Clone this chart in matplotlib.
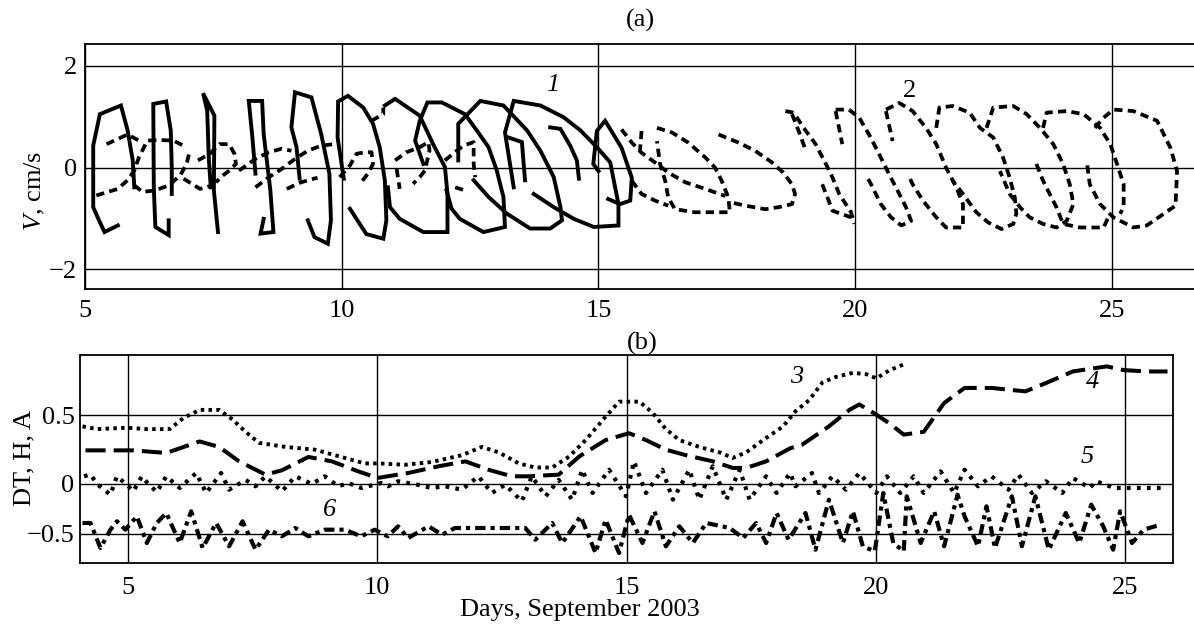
import numpy as np
import matplotlib
matplotlib.use("Agg")
import matplotlib.pyplot as plt

plt.rcParams['font.family'] = ['Liberation Serif', 'DejaVu Serif']
plt.rcParams['mathtext.fontset'] = 'custom'
plt.rcParams['mathtext.rm'] = 'Liberation Serif'
plt.rcParams['mathtext.it'] = 'Liberation Serif:italic'

# ---- (a) velocity hodographs: (day, V cm/s) vertices ----
curve1_segments = [
    [(5.64, -1.14), (5.38, -1.27), (5.26, -1.01), (5.16, -0.78), (5.16, 0.43), (5.29, 1.05),
     (5.70, 1.22), (5.83, 0.73), (5.93, 0.14), (5.96, -0.39)],
    [(6.63, -1.04), (6.63, -1.33), (6.37, -1.17), (6.34, -0.39), (6.33, 1.25), (6.58, 1.30),
     (6.67, 0.73), (6.69, 0.0), (6.69, -0.52)],
    [(7.59, -1.27), (7.51, -0.45), (7.52, 1.02), (7.30, 1.46), (7.38, 1.12), (7.41, 0.20), (7.45, -0.39)],
    [(8.48, -1.01), (8.42, -1.30), (8.67, -1.27), (8.61, -0.45), (8.48, 0.66), (8.45, 1.31),
     (8.19, 1.31), (8.26, 0.59), (8.32, -0.12)],
    [(9.34, -1.04), (9.47, -1.37), (9.73, -1.50), (9.79, -1.04), (9.76, -0.12), (9.60, 0.66),
     (9.41, 1.38), (9.09, 1.48), (9.02, 0.79), (9.12, 0.40), (9.18, -0.22)],
    [(10.04, -0.22), (9.92, 0.59), (9.93, 1.30), (10.12, 1.41), (10.42, 1.18), (10.61, 0.86),
     (10.74, 0.40), (10.84, -0.25), (10.87, -1.04), (10.81, -1.40), (10.48, -1.31), (10.16, -0.81)],
    [(10.84, 1.22), (11.04, 1.35), (11.52, 1.02), (11.78, 0.46), (12.01, 0.01), (12.06, -0.52),
     (12.06, -1.27), (11.59, -1.27), (11.13, -1.01), (10.94, -0.78), (10.90, -0.39)],
    [(11.59, 0.07), (11.43, 0.53), (11.52, 0.92), (11.67, 1.28), (11.95, 1.28), (12.40, 1.05),
     (12.63, 0.73), (12.86, 0.40), (13.02, -0.06), (13.15, -0.58), (13.18, -1.17), (12.76, -1.27),
     (12.30, -1.01), (12.14, -0.81), (12.04, -0.45)],
    [(12.27, 0.14), (12.27, 0.86), (12.70, 1.31), (13.15, 1.22), (13.61, 0.73), (13.87, 0.33),
     (14.13, -0.19), (14.26, -0.78), (14.29, -1.04), (14.06, -1.20), (13.67, -1.20), (13.22, -0.91),
     (12.86, -0.58), (12.57, -0.25)],
    [(13.35, -0.39), (13.18, 0.69), (13.35, 1.31), (13.87, 1.22), (14.32, 0.99), (14.65, 0.73),
     (14.97, 0.40), (15.23, 0.10), (15.39, -0.72), (15.39, -1.14), (14.91, -1.17), (14.52, -1.01),
     (14.13, -0.78), (13.74, -0.52)],
    [(13.25, 0.59), (13.51, 0.50), (13.57, -0.25)],
    [(14.06, 0.79), (14.26, 0.76), (14.45, 0.43), (14.58, 0.14), (14.62, -0.22)],
    [(15.00, -0.07), (14.90, 0.07), (14.97, 0.72), (15.13, 0.92), (15.45, 0.39), (15.65, -0.20),
     (15.62, -0.65), (15.42, -0.72), (15.19, -0.62)],
]

curve2_segments = [
    [(5.42, 0.46), (5.83, 0.65), (6.05, 0.53)],
    [(5.22, -0.55), (5.64, -0.42), (5.83, -0.25), (5.96, -0.06), (6.05, 0.20), (6.15, 0.40),
     (6.21, 0.53), (6.47, 0.54), (6.72, 0.53), (6.92, 0.43)],
    [(5.96, -0.35), (6.12, -0.48), (6.37, -0.45), (6.63, -0.35), (6.85, -0.16), (6.98, 0.07), (7.04, 0.33)],
    [(6.92, -0.22), (7.24, -0.42), (7.49, -0.35)],
    [(7.20, 0.14), (7.43, 0.27), (7.62, 0.46), (7.81, 0.46), (7.91, 0.27), (7.94, 0.07),
     (7.81, -0.06), (7.68, -0.16), (7.55, -0.29)],
    [(8.00, -0.06), (8.32, 0.17), (8.58, 0.30), (8.83, 0.37), (9.02, 0.33)],
    [(8.32, -0.39), (8.58, -0.19), (8.83, -0.03), (9.09, 0.17), (9.34, 0.33), (9.60, 0.43), (9.85, 0.46)],
    [(8.93, -0.42), (9.21, -0.29), (9.53, -0.20)],
    [(9.96, -0.19), (10.16, 0.04), (10.29, 0.27), (10.45, 0.30), (10.58, 0.30), (10.61, 0.07),
     (10.51, -0.12), (10.38, -0.29)],
    [(10.58, 0.92), (10.81, 1.05), (10.81, 1.18)],
    [(11.04, 0.14), (11.26, 0.30), (11.52, 0.40), (11.69, 0.50), (11.71, 0.33), (11.62, -0.06),
     (11.52, -0.19), (11.39, -0.32)],
    [(11.07, -0.03), (11.13, -0.42)],
    [(12.01, 0.14), (12.24, 0.33), (12.37, 0.43), (12.57, 0.50), (12.57, 0.07), (12.60, -0.19)],
    [(12.21, -0.39), (12.40, -0.45)],
    [(15.45, 0.75), (15.65, 0.49), (15.84, 0.29), (16.10, 0.10), (16.36, -0.10), (16.69, -0.29),
     (17.08, -0.42), (17.47, -0.56)],
    [(15.84, 0.72), (15.81, 0.33)],
    [(15.65, -0.26), (15.84, -0.52), (16.10, -0.65), (16.36, -0.75)],
    [(16.14, 0.78), (16.43, 0.69), (16.75, 0.49), (17.08, 0.20), (17.27, 0.0), (17.40, -0.26),
     (17.53, -0.59), (17.56, -0.88), (17.21, -0.88), (16.88, -0.88), (16.49, -0.82), (16.36, -0.59),
     (16.30, -0.26), (16.20, 0.07), (16.14, 0.52)],
    [(17.34, 0.65), (17.73, 0.49), (18.05, 0.33), (18.38, 0.10), (18.60, -0.10), (18.77, -0.33),
     (18.83, -0.52), (18.77, -0.72), (18.51, -0.78), (18.25, -0.82), (17.86, -0.75), (17.60, -0.69)],
    [(18.64, 1.11), (18.80, 1.08), (19.04, 0.72), (19.23, 0.46), (19.43, 0.07), (19.56, -0.20),
     (19.69, -0.52), (19.92, -0.88), (19.98, -1.11)],
    [(18.77, 1.05), (18.90, 0.72), (19.04, 0.33)],
    [(19.36, -0.33), (19.56, -0.85), (19.75, -0.92), (19.92, -0.98)],
    [(19.62, 1.14), (19.88, 1.14), (20.08, 0.98), (20.27, 0.65), (20.47, 0.26), (20.66, -0.13),
     (20.83, -0.46), (20.99, -0.78), (21.09, -1.05), (20.90, -1.14), (20.70, -0.98), (20.50, -0.72),
     (20.31, -0.33), (20.24, -0.20)],
    [(19.62, 1.11), (19.75, 0.46)],
    [(20.60, 1.14), (20.86, 1.27), (21.12, 1.11), (21.38, 0.78), (21.58, 0.46), (21.77, 0.0),
     (21.97, -0.39), (22.10, -0.72), (22.10, -1.18), (21.77, -1.18), (21.58, -0.98), (21.32, -0.65),
     (21.12, -0.33), (21.06, -0.20)],
    [(20.60, 1.11), (20.73, 0.52)],
    [(21.58, 0.78), (21.64, 1.18), (21.90, 1.21), (22.23, 1.08), (22.43, 0.78), (22.69, 0.59),
     (22.88, 0.20), (23.01, -0.20), (23.11, -0.59), (23.14, -0.91), (23.08, -1.11), (22.85, -1.21),
     (22.59, -1.08), (22.36, -0.88), (22.10, -0.52), (21.90, -0.26)],
    [(22.56, 0.78), (22.69, 1.18), (23.08, 1.21), (23.34, 1.05), (23.60, 0.78), (23.86, 0.46),
     (24.05, 0.07), (24.18, -0.33), (24.25, -0.72), (24.12, -1.05), (23.92, -1.18), (23.66, -1.11),
     (23.40, -0.98), (23.21, -0.78), (23.01, -0.52), (22.82, -0.07)],
    [(23.66, 0.78), (23.73, 1.08), (24.12, 1.11), (24.45, 1.05), (24.77, 0.78), (24.97, 0.46),
     (25.10, 0.07), (25.23, -0.33), (25.23, -0.78), (25.16, -0.91)],
    [(23.53, 0.07), (23.66, -0.26), (23.92, -0.78), (24.05, -1.11), (24.38, -1.18), (24.84, -1.18),
     (24.93, -0.98)],
    [(24.67, 0.78), (24.84, 0.98), (25.03, 1.14), (25.42, 1.11), (25.88, 0.92), (26.14, 0.39),
     (26.27, -0.07), (26.24, -0.75), (25.68, -1.14), (25.42, -1.18), (25.03, -0.98), (24.77, -0.72),
     (24.57, -0.33), (24.51, 0.13)],
]

# ---- (b) DT, H, A series ----
days3 = [4.09, 4.38, 4.98, 5.38, 5.84, 6.11, 6.44, 6.83, 7.10, 7.36, 7.63, 8.16, 8.75, 9.35, 9.75,
         10.02, 10.56, 11.09, 11.70, 12.10, 12.44, 12.84, 13.17, 13.51, 13.85, 14.18, 14.58, 14.85,
         15.26, 15.52, 15.79, 16.06, 16.46, 16.87, 17.13, 17.40, 17.74, 18.14, 18.39, 18.66, 18.93,
         19.20, 19.54, 19.81, 20.01, 20.28, 20.62]
vals3 = [0.42, 0.40, 0.41, 0.40, 0.40, 0.48, 0.54, 0.54, 0.47, 0.38, 0.30, 0.27, 0.25, 0.19, 0.15,
         0.15, 0.14, 0.16, 0.21, 0.27, 0.23, 0.15, 0.12, 0.12, 0.20, 0.32, 0.49, 0.60,
         0.60, 0.52, 0.40, 0.32, 0.27, 0.23, 0.19, 0.23, 0.32, 0.42, 0.53, 0.61, 0.74,
         0.78, 0.81, 0.80, 0.77, 0.83, 0.88]

days4 = [4.15, 5.11, 5.77, 6.44, 6.83, 7.23, 7.76, 8.09, 8.62, 9.09, 9.62, 10.01, 10.41, 10.62, 11.23,
         11.77, 12.23, 12.70, 13.04, 13.64, 14.05, 14.58, 15.05, 15.39, 15.79, 16.19, 16.73, 17.13,
         17.40, 17.80, 18.28, 18.52, 19.06, 19.47, 19.67, 20.01, 20.28, 20.56, 20.96, 21.37, 21.78,
         22.32, 23.00, 23.41, 23.95, 24.63, 24.97, 25.44, 25.85]
vals4 = [0.245, 0.245, 0.226, 0.31, 0.27, 0.165, 0.068, 0.10, 0.197, 0.165, 0.092, 0.044, 0.068, 0.08,
         0.129, 0.165, 0.104, 0.056, 0.056, 0.068, 0.20, 0.32, 0.37, 0.32, 0.25, 0.21, 0.165, 0.117,
         0.117, 0.165, 0.26, 0.286, 0.42, 0.54, 0.58, 0.505, 0.44, 0.36, 0.38, 0.59, 0.70,
         0.70, 0.675, 0.735, 0.82, 0.857, 0.83, 0.82, 0.82]

days5 = [4.12, 4.25, 4.38, 4.65, 4.78, 4.98, 5.11, 5.28, 5.41, 5.58, 5.77, 6.04, 6.37, 6.57, 6.87,
         7.03, 7.36, 7.56, 7.76, 8.09, 8.36, 8.69, 8.95, 9.22, 9.42, 9.68, 10.08, 10.22, 10.42, 10.83,
         11.09, 11.36, 11.70, 12.03, 12.30, 12.57, 12.90, 13.10, 13.38, 13.64, 13.91, 14.11, 14.32,
         14.65, 14.99, 15.15, 15.39, 15.72, 15.93, 16.26, 16.46, 16.73, 17.00, 17.27, 17.47, 17.80,
         18.01, 18.28, 18.39, 18.72, 18.86, 19.13, 19.40, 19.67, 20.01, 20.22, 20.49, 20.76, 20.96,
         21.30, 21.57, 21.78, 22.05, 22.32, 22.66, 22.86, 23.13, 23.41, 23.74, 23.95, 24.29, 24.42,
         24.69, 24.76, 25.78]
vals5 = [0.056, 0.07, 0.0, -0.107, 0.056, -0.007, -0.073, 0.056, 0.0, -0.08, 0.056, -0.04, 0.08, -0.09,
         0.08, -0.057, 0.03, -0.023, 0.056, -0.073, 0.056, 0.0, 0.056, -0.023, 0.007, -0.04, 0.007,
         -0.023, 0.02, -0.01, -0.04, -0.023, -0.057, 0.056, -0.09, -0.007, -0.173, 0.056, -0.123, 0.03,
         -0.157, 0.104, -0.09, 0.104, -0.123, 0.165, -0.09, 0.104, -0.157, 0.104, -0.157, 0.129, -0.157,
         0.104, -0.157, 0.056, -0.09, 0.08, -0.023, 0.08, -0.09, 0.056, -0.057, 0.08, -0.09, 0.056,
         -0.09, 0.056, -0.09, 0.092, -0.09, 0.104, -0.023, 0.056, -0.057, 0.068, -0.09, 0.02, -0.09,
         0.044, -0.04, 0.02, -0.023, -0.04, -0.04]

days6 = [4.09, 4.25, 4.45, 4.65, 4.78, 4.95, 5.18, 5.38, 5.58, 5.77, 6.04, 6.27, 6.50, 6.77, 7.03,
         7.30, 7.56, 7.83, 8.09, 8.36, 8.62, 8.95, 9.35, 9.68, 9.95, 10.21, 10.42, 10.62, 11.03, 11.30,
         11.56, 12.97, 13.17, 13.51, 13.71, 14.08, 14.38, 14.58, 14.85, 15.05, 15.32, 15.56, 15.79,
         16.06, 16.33, 16.60, 17.07, 17.34, 17.60, 17.80, 18.01, 18.25, 18.59, 18.79, 19.06, 19.34,
         19.54, 19.74, 19.98, 20.15, 20.35, 20.56, 20.62, 20.90, 21.17, 21.37, 21.64, 21.78, 22.05,
         22.22, 22.39, 22.73, 22.93, 23.20, 23.47, 23.81, 24.08, 24.32, 24.56, 24.76, 24.90, 25.14,
         25.37, 25.71]
vals6 = [-0.39, -0.39, -0.64, -0.457, -0.373, -0.457, -0.323, -0.59, -0.39, -0.29, -0.59, -0.273, -0.64,
         -0.39, -0.623, -0.373, -0.657, -0.457, -0.523, -0.44, -0.523, -0.457, -0.457, -0.523, -0.457,
         -0.523, -0.423, -0.54, -0.423, -0.507, -0.44, -0.44, -0.557, -0.39, -0.59, -0.323, -0.69,
         -0.357, -0.69, -0.307, -0.59, -0.273, -0.623, -0.423, -0.59, -0.39, -0.44, -0.54, -0.39, -0.59,
         -0.29, -0.557, -0.29, -0.657, -0.157, -0.59, -0.273, -0.623, -0.673, -0.09, -0.59, -0.673,
         -0.123, -0.59, -0.273, -0.623, -0.107, -0.323, -0.623, -0.223, -0.64, -0.123, -0.623, -0.123,
         -0.657, -0.29, -0.59, -0.207, -0.423, -0.657, -0.273, -0.59, -0.457, -0.407]

top_xticks = [5, 10, 15, 20, 25]
top_yticks = [-2, 0, 2]
bot_xticks = [5, 10, 15, 20, 25]
bot_yticks = [-0.5, 0, 0.5]

W, H = 1194, 628
fs = 19

fig = plt.figure(figsize=(W / 100, H / 100), dpi=100)
ax1 = fig.add_axes([85 / W, 1 - 289 / H, 1109 / W, 245 / H])
ax2 = fig.add_axes([80 / W, 1 - 563 / H, 1093 / W, 208 / H])

# --- panel (a) ---
for seg in curve1_segments:
    x, y = zip(*seg)
    ax1.plot(x, y, color='black', lw=2.8, solid_joinstyle='miter')
for seg in curve2_segments:
    x, y = zip(*seg)
    ax1.plot(x, y, color='black', lw=2.7, ls=(0, (2.2, 1.4)))

ax1.set_xlim(5, 26.6)
ax1.set_ylim(-2.39, 2.43)
ax1.set_xticks(top_xticks)
ax1.set_yticks(top_yticks)
ax1.set_yticklabels(['\u22122', '0', '2'])
ax1.spines['right'].set_visible(False)
ax1.text(14.1, 1.63, '1', fontsize=fs, style='italic', ha='center', va='center')
ax1.text(21.06, 1.51, '2', fontsize=fs, ha='center', va='center')


# --- panel (b): the y grid in the original is stretched above zero ---
def fwd(y):
    y = np.asarray(y, dtype=float)
    return np.where(y >= 0, y * 1.372, y)


def inv(t):
    t = np.asarray(t, dtype=float)
    return np.where(t >= 0, t / 1.372, t)


ax2.set_yscale('function', functions=(fwd, inv))
ax2.plot(days3, vals3, color='black', lw=2.8, ls=(0, (0.9, 1.1)))
ax2.plot(days4, vals4, color='black', lw=2.9, ls=(0, (5, 2)))
ax2.plot(days5, vals5, color='black', lw=3.0, ls=(0, (0.9, 1.5)))
ax2.plot(days6, vals6, color='black', lw=3.0, ls=(0, (2.5, 1.2, 1, 1.2)))
ax2.set_xlim(4.04, 25.96)
ax2.set_ylim(-0.79, 0.94)
ax2.set_xticks(bot_xticks)
ax2.set_yticks(bot_yticks)
ax2.set_yticklabels(['\u22120.5', '0', '0.5'])
ax2.yaxis.set_minor_locator(matplotlib.ticker.NullLocator())
ax2.text(18.41, 0.78, '3', fontsize=fs, style='italic', ha='center', va='center')
ax2.text(24.34, 0.74, '4', fontsize=fs, style='italic', ha='center', va='center')
ax2.text(24.24, 0.20, '5', fontsize=fs, style='italic', ha='center', va='center')
ax2.text(9.05, -0.26, '6', fontsize=fs, style='italic', ha='center', va='center')

for ax, xpad, ypad in [(ax1, 8, 6), (ax2, 10, 4)]:
    ax.grid(True, color='black', lw=1.0)
    ax.set_axisbelow(True)
    ax.tick_params(length=0, labelsize=fs)
    ax.tick_params(axis='x', pad=xpad)
    ax.tick_params(axis='y', pad=ypad)
    for s in ax.spines.values():
        s.set_linewidth(1.3)

fig.text(640 / W, 1 - 20 / H, '(a)', fontsize=fs, ha='center', va='center')
fig.text(642 / W, 1 - 343 / H, '(b)', fontsize=fs, ha='center', va='center')
fig.text(35 / W, 1 - 191 / H, r'$V$, cm/s', fontsize=fs, rotation=90, ha='center', va='center')
fig.text(24 / W, 1 - 458 / H, 'DT, H, A', fontsize=fs, rotation=90, ha='center', va='center')
fig.text(580 / W, 1 - 610 / H, 'Days, September 2003', fontsize=fs, ha='center', va='center')

fig.savefig('out.png', dpi=100)
